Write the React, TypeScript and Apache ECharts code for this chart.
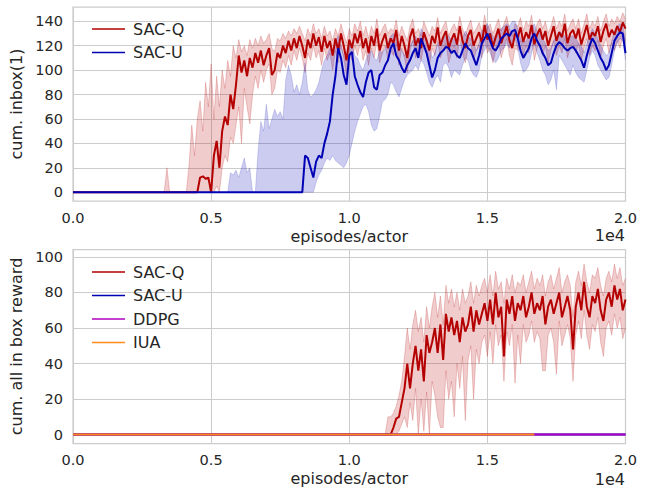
import React, { useEffect, useRef } from "react";
import * as echarts from "echarts";

// ---------- data (x in episodes/actor, sampled every STEP episodes) ----------
const STEP = 100;
const X_MIN = 0;
const X_MAX = 20000;
const X_INTERVAL = 5000;

// Top panel: cum. inbox(1)
const Q_TOP_START = 3300;
const Q_TOP_MEAN = [
  0, 0, 0, 0, 0, 0, 0, 0, 0, 0,
  0, 0, 0, 12, 13, 11, 12, 0, 30, 42,
  20, 50, 62, 55, 80, 68, 88, 112, 98, 108,
  95, 110, 102, 114, 106, 116, 104, 112, 118, 96,
  100, 114, 110, 120, 114, 124, 116, 126, 118, 128,
  120, 110, 125, 118, 130, 120, 127, 115, 128, 118,
  124, 112, 126, 116, 130, 120, 108, 125, 118, 130,
  122, 132, 118, 126, 114, 128, 120, 134, 116, 124,
  130, 118, 126, 122, 133, 116, 128, 120, 110, 127,
  134, 120, 126, 118, 131, 124, 116, 128, 122, 135,
  120, 127, 132, 118, 125, 130, 121, 136, 124, 118,
  128, 133, 120, 126, 131, 122, 137, 125, 130, 119,
  127, 134, 122, 129, 136, 124, 118, 130, 127, 135,
  123, 131, 126, 137, 121, 129, 134, 125, 132, 120,
  128, 136, 124, 131, 127, 138, 122, 130, 133, 126,
  134, 121, 129, 137, 125, 131, 128, 136, 123, 132,
  138, 127, 133, 129, 136, 131, 139, 134,
];
const Q_TOP_LO = [
  0, 0, 0, 0, 0, 0, 0, 0, 0, 0,
  0, 0, 0, 0, 0, 0, 0, 0, 0, 5,
  0, 20, 30, 25, 45, 40, 55, 70, 40, 85,
  70, 56, 80, 95, 85, 100, 90, 100, 105, 80,
  85, 100, 98, 108, 102, 112, 104, 116, 108, 118,
  110, 98, 114, 108, 120, 110, 116, 104, 118, 108,
  114, 100, 116, 106, 120, 110, 96, 114, 108, 120,
  112, 122, 108, 116, 104, 118, 110, 124, 106, 114,
  120, 108, 116, 112, 122, 104, 118, 110, 98, 116,
  124, 110, 116, 108, 120, 114, 104, 118, 112, 124,
  110, 116, 122, 106, 114, 120, 110, 126, 114, 106,
  118, 122, 108, 116, 120, 110, 126, 114, 118, 106,
  116, 124, 110, 118, 126, 112, 104, 118, 116, 124,
  112, 120, 114, 126, 108, 118, 122, 112, 120, 106,
  116, 124, 112, 120, 114, 126, 110, 118, 122, 114,
  122, 108, 118, 126, 112, 120, 116, 124, 110, 120,
  126, 114, 122, 116, 124, 118, 128, 122,
];
const Q_TOP_HI = [
  0, 20, 0, 0, 0, 0, 0, 0, 0, 22,
  55, 30, 60, 75, 50, 90, 70, 105, 60, 95,
  70, 100, 85, 108, 95, 120, 110, 125, 115, 120,
  112, 125, 118, 126, 120, 128, 122, 125, 130, 118,
  115, 126, 124, 130, 126, 132, 128, 134, 130, 136,
  130, 124, 134, 128, 138, 130, 134, 126, 136, 128,
  132, 124, 134, 128, 138, 130, 122, 134, 128, 138,
  132, 140, 128, 136, 126, 136, 130, 142, 128, 134,
  138, 130, 134, 132, 141, 128, 136, 130, 124, 136,
  142, 130, 134, 128, 140, 134, 128, 136, 132, 143,
  130, 136, 140, 128, 134, 138, 132, 144, 134, 128,
  136, 141, 130, 134, 139, 132, 145, 134, 138, 130,
  136, 142, 132, 138, 144, 134, 128, 138, 136, 143,
  132, 140, 136, 145, 130, 138, 142, 134, 140, 130,
  136, 144, 134, 140, 136, 146, 132, 138, 142, 134,
  142, 130, 138, 146, 134, 140, 136, 144, 132, 140,
  146, 136, 142, 138, 144, 140, 147, 142,
];

const U_TOP_START = 5600;
const U_TOP_MEAN = [
  0, 0, 0, 0, 0, 0, 0, 0, 0, 0,
  0, 0, 0, 0, 0, 0, 0, 0, 0, 0,
  0, 0, 0, 0, 0, 0, 0, 0, 30, 28,
  20, 12, 25, 30, 28, 40, 48, 58, 80, 95,
  118, 110, 96, 88, 112, 115, 95, 88, 82, 78,
  90, 98, 100, 86, 84, 96, 98, 104, 108, 118,
  122, 112, 108, 102, 98, 104, 108, 114, 118, 110,
  126, 120, 114, 104, 94, 100, 110, 114, 116, 119,
  118, 114, 116, 112, 110, 116, 122, 118, 116, 110,
  104, 112, 122, 126, 130, 124, 118, 116, 120, 126,
  128, 130, 128, 132, 133, 126, 116, 110, 114, 118,
  126, 130, 124, 120, 114, 110, 104, 106, 114, 120,
  123, 121, 118, 116, 118, 119, 116, 112, 108, 102,
  112, 120, 126, 122, 116, 110, 106, 100, 104, 114,
  124, 128, 131, 130, 114,
];
const U_TOP_LO = [
  0, 0, 0, 0, 0, 0, 0, 0, 0, 0,
  0, 0, 0, 0, 0, 0, 0, 0, 0, 0,
  0, 0, 0, 0, 0, 0, 0, 0, 0, 0,
  0, 0, 8, 14, 18, 24, 28, 26, 30, 26,
  24, 22, 20, 24, 30, 40, 50, 58, 64, 70,
  72, 66, 55, 50, 52, 62, 74, 76, 80, 90,
  88, 82, 78, 85, 92, 96, 98, 100, 104, 100,
  108, 105, 98, 90, 86, 92, 96, 90, 104, 106,
  102, 94, 100, 98, 96, 104, 110, 108, 100, 96,
  94, 100, 112, 116, 120, 114, 108, 106, 110, 116,
  118, 122, 118, 124, 126, 118, 106, 98, 100, 104,
  114, 122, 114, 108, 100, 96, 88, 92, 100, 84,
  112, 108, 104, 100, 96, 104, 98, 94, 92, 90,
  100, 110, 116, 112, 104, 100, 96, 92, 94, 104,
  116, 122, 126, 124, 108,
];
const U_TOP_HI = [
  0, 16, 14, 18, 12, 20, 28, 16, 20, 0,
  0, 34, 58, 50, 72, 52, 60, 68, 62, 66,
  60, 92, 104, 96, 82, 88, 80, 90, 106, 84,
  78, 80, 84, 90, 100, 108, 112, 118, 114, 124,
  128, 120, 112, 108, 120, 122, 112, 110, 104, 100,
  108, 114, 116, 110, 108, 116, 114, 118, 122, 128,
  130, 124, 120, 116, 112, 116, 120, 124, 128, 122,
  134, 130, 126, 118, 110, 114, 122, 124, 126, 128,
  128, 124, 126, 122, 120, 126, 132, 128, 126, 122,
  116, 122, 132, 134, 138, 132, 128, 126, 130, 134,
  136, 138, 136, 140, 140, 134, 126, 122, 124, 128,
  134, 138, 132, 130, 126, 122, 116, 118, 124, 128,
  132, 130, 128, 126, 128, 128, 126, 122, 120, 114,
  122, 128, 134, 130, 126, 120, 116, 112, 114, 124,
  132, 136, 138, 136, 124,
];

// Bottom panel: cum. all in box reward
const Q_BOT_START = 11300;
const Q_BOT_MEAN = [
  0, 0, 0, 4, 9, 10, 18, 26, 40, 26,
  40, 50, 36, 48, 30, 56, 46, 52, 60, 46,
  62, 42, 68, 58, 66, 56, 64, 52, 66, 58,
  62, 72, 58, 70, 62, 68, 74, 64, 76, 62,
  80, 66, 72, 44, 76, 68, 78, 64, 74, 70,
  78, 66, 72, 80, 68, 74, 70, 78, 62, 72,
  76, 68, 74, 80, 66, 72, 78, 70, 48, 72,
  80, 70, 86, 72, 66, 78, 74, 82, 70, 64,
  76, 80, 72, 84, 76, 82, 70, 76,
];
const Q_BOT_LO = [
  0, 0, 0, 0, 0, 2, 6, 10, 4, 18,
  8, 26, 0, 20, 2, 24, 0, 30, 22, 10,
  4, 4, 36, 20, 30, 10, 40, 26, 44, 8,
  42, 50, 20, 48, 40, 52, 56, 44, 58, 40,
  62, 50, 56, 30, 58, 50, 62, 29, 56, 40,
  62, 52, 56, 64, 52, 58, 54, 36, 36, 56,
  60, 52, 34, 64, 50, 56, 62, 54, 30, 56,
  64, 54, 70, 56, 48, 62, 58, 66, 52, 44,
  60, 64, 56, 68, 60, 66, 54, 60,
];
const Q_BOT_HI = [
  0, 10, 10, 12, 16, 22, 30, 44, 60, 48,
  62, 70, 58, 66, 52, 72, 60, 72, 80, 66,
  78, 62, 84, 74, 82, 72, 80, 70, 82, 74,
  78, 86, 74, 84, 78, 84, 88, 80, 90, 78,
  92, 82, 86, 74, 88, 82, 90, 80, 86, 84,
  90, 80, 86, 92, 82, 88, 84, 90, 78, 86,
  90, 82, 88, 94, 80, 86, 90, 84, 66, 86,
  92, 84, 96, 86, 80, 90, 88, 94, 84, 78,
  88, 92, 86, 96, 88, 94, 84, 88,
];
const FLAT_X = [0, 20000];
const FLAT_ZERO = [0, 0];
const IUA_X = [0, 16700];
const IUA_Y = [0, 0];

const Y_TOP_TICKS = [0, 20, 40, 60, 80, 100, 120, 140];
const Y_BOT_TICKS = [0, 20, 40, 60, 80, 100];

// ---------- styles ----------
const RED = "#b40000";
const BLUE = "#0000b4";
const PURPLE = "#b000c0";
const ORANGE = "#ff8c1a";
const RED_BAND = "rgba(180,0,0,0.2)";
const RED_EDGE = "rgba(180,0,0,0.25)";
const BLUE_BAND = "rgba(0,0,180,0.2)";
const BLUE_EDGE = "rgba(0,0,180,0.2)";
const TEXT = "#262626";
const GRID = "#cccccc";
const FONT = "DejaVu Sans";

const pairs = (start: number, vals: number[]) => vals.map((v, i) => [start + i * STEP, v]);
const zip = (xs: number[], ys: number[]) => xs.map((x, i) => [x, ys[i]]);

function band(idx: number, start: number, lo: number[], hi: number[], fill: string, edge: string) {
  const data = lo.map((l, i) => [start + i * STEP, l, hi[i]]);
  return {
    type: "custom" as const,
    xAxisIndex: idx,
    yAxisIndex: idx,
    silent: true,
    data,
    encode: { x: 0, y: [1, 2] },
    renderItem: (params: any, api: any) => {
      if (params.dataIndex !== 0) return null;
      const up = data.map((d) => api.coord([d[0], d[2]]));
      const dn = data.map((d) => api.coord([d[0], d[1]]));
      const poly = up.concat(dn.slice().reverse());
      return {
        type: "group",
        children: [
          { type: "polygon", shape: { points: poly }, style: { fill, stroke: null } },
          { type: "polyline", shape: { points: up }, style: { stroke: edge, lineWidth: 0.8, fill: null } },
          { type: "polyline", shape: { points: dn }, style: { stroke: edge, lineWidth: 0.8, fill: null } },
        ],
      };
    },
  };
}

function meanLine(name: string, idx: number, data: number[][], color: string) {
  return {
    type: "line" as const,
    name,
    xAxisIndex: idx,
    yAxisIndex: idx,
    data,
    symbol: "none",
    silent: true,
    color,
    lineStyle: { color, width: 2 },
  };
}

function xAxis(idx: number) {
  return {
    type: "value" as const,
    gridIndex: idx,
    min: X_MIN,
    max: X_MAX,
    interval: X_INTERVAL,
    name: "episodes/actor",
    nameLocation: "middle" as const,
    nameGap: 27,
    nameTextStyle: { fontSize: 16, color: TEXT, fontFamily: FONT },
    axisLine: { show: false },
    axisTick: { show: false },
    axisLabel: {
      fontSize: 14.5,
      color: TEXT,
      fontFamily: FONT,
      margin: 9,
      formatter: (v: number) => (v / 1e4).toFixed(1),
    },
    splitLine: { show: true, lineStyle: { color: GRID, width: 1 } },
  };
}

function yAxis(idx: number, min: number, max: number, ticks: number[], name: string) {
  return {
    type: "value" as const,
    gridIndex: idx,
    min,
    max,
    name,
    nameLocation: "middle" as const,
    nameGap: 43,
    nameTextStyle: { fontSize: 16, color: TEXT, fontFamily: FONT },
    axisLine: { show: false },
    axisTick: { show: false, customValues: ticks },
    axisLabel: { fontSize: 14.5, color: TEXT, fontFamily: FONT, margin: 10, customValues: ticks },
    splitLine: { show: true, lineStyle: { color: GRID, width: 1 } },
  };
}

function legend(top: number, names: string[]) {
  return {
    data: names,
    orient: "vertical" as const,
    left: 87,
    top,
    icon: "rect",
    itemWidth: 33,
    itemHeight: 1.6,
    itemGap: 7.5,
    textStyle: { fontSize: 16, lineHeight: 16, color: TEXT, fontFamily: FONT, padding: [0, 0, 0, 3] },
    selectedMode: false,
  };
}

export default function App() {
  const ref = useRef<HTMLDivElement>(null);
  useEffect(() => {
    document.body.style.margin = "0";
    const chart = echarts.init(ref.current!, undefined, { renderer: "svg" });
    chart.setOption({
      animation: false,
      backgroundColor: "#ffffff",
      textStyle: { fontFamily: FONT },
      grid: [
        { left: 73, top: 7, width: 552.5, height: 194, show: true, borderColor: GRID, borderWidth: 1.25, backgroundColor: "transparent" },
        { left: 73, top: 249.5, width: 552.5, height: 194, show: true, borderColor: GRID, borderWidth: 1.25, backgroundColor: "transparent" },
      ],
      xAxis: [xAxis(0), xAxis(1)],
      yAxis: [
        yAxis(0, -7.2, 151.7, Y_TOP_TICKS, "cum. inbox(1)"),
        yAxis(1, -5, 104.2, Y_BOT_TICKS, "cum. all in box reward"),
      ],
      legend: [legend(16, ["SAC-Q", "SAC-U"]), legend(259, ["SAC-Q", "SAC-U", "DDPG", "IUA"])],
      graphic: [
        { type: "text", x: 625, y: 235, style: { text: "1e4", fill: TEXT, fontSize: 16, fontFamily: FONT, align: "right", verticalAlign: "middle" } },
        { type: "text", x: 625, y: 479, style: { text: "1e4", fill: TEXT, fontSize: 16, fontFamily: FONT, align: "right", verticalAlign: "middle" } },
      ],
      series: [
        band(0, Q_TOP_START, Q_TOP_LO, Q_TOP_HI, RED_BAND, RED_EDGE),
        band(0, U_TOP_START, U_TOP_LO, U_TOP_HI, BLUE_BAND, BLUE_EDGE),
        meanLine("SAC-Q", 0, [[X_MIN, 0], ...pairs(Q_TOP_START, Q_TOP_MEAN)], RED),
        meanLine("SAC-U", 0, [[X_MIN, 0], ...pairs(U_TOP_START, U_TOP_MEAN)], BLUE),
        band(1, Q_BOT_START, Q_BOT_LO, Q_BOT_HI, RED_BAND, RED_EDGE),
        meanLine("SAC-Q", 1, [[X_MIN, 0], ...pairs(Q_BOT_START, Q_BOT_MEAN)], RED),
        meanLine("SAC-U", 1, zip(FLAT_X, FLAT_ZERO), BLUE),
        meanLine("DDPG", 1, zip(FLAT_X, FLAT_ZERO), PURPLE),
        meanLine("IUA", 1, zip(IUA_X, IUA_Y), ORANGE),
      ],
    });
    return () => chart.dispose();
  }, []);
  return <div ref={ref} style={{ position: "fixed", left: 0, top: 0, width: 648, height: 489 }} />;
}
